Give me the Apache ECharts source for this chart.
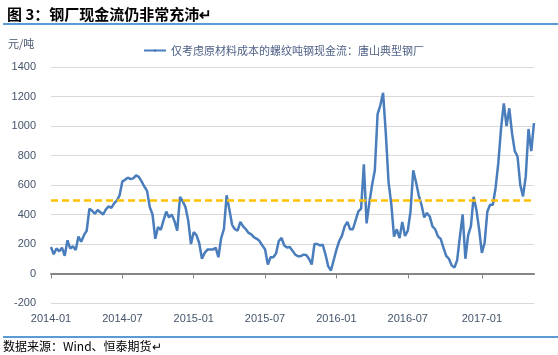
<!DOCTYPE html>
<html>
<head>
<meta charset="utf-8">
<title>钢厂现金流</title>
<script src="https://cdn.jsdelivr.net/npm/echarts@6.0.0/dist/echarts.min.js"></script>
<style>
    html, body { margin: 0; padding: 0; background: #fff; }
    #main { width: 558px; height: 355px; }
</style>
</head>
<body>
<div id="main"></div>
<script>
// 周度数据，起始 2014-01-03
var firstWeek = '2014-01-03';
var seriesName = '仅考虑原材料成本的螺纹吨钢现金流：唐山典型钢厂';
var cashFlow = [
    180, 130, 170, 150, 175, 120, 225, 170, 184, 160,
    250, 215, 260, 290, 440, 425, 405, 430, 415, 400,
    435, 455, 445, 475, 495, 530, 625, 635, 650, 640,
    645, 665, 655, 625, 590, 560, 450, 400, 235, 315,
    295, 360, 420, 380, 400, 355, 290, 520, 490, 450,
    360, 200, 280, 260, 207, 100, 140, 162, 162, 162,
    175, 110, 240, 300, 530, 433, 330, 300, 290, 350,
    320, 300, 275, 265, 245, 235, 220, 190, 165, 60,
    110, 110, 135, 220, 241, 190, 176, 180, 155, 128,
    117, 117, 128, 125, 100, 61, 200, 200, 190, 196,
    130, 50, 20, 90, 160, 220, 255, 320, 350, 300,
    300, 360, 421, 440, 740, 340, 480, 600, 700, 1080,
    1140, 1225, 950, 620, 470, 250, 300, 240, 350, 255,
    290, 420, 700, 620, 530, 466, 380, 410, 387, 320,
    300, 252, 235, 175, 120, 100, 55, 40, 90, 250,
    400, 100, 260, 320, 520, 433, 300, 140, 207, 420,
    466, 466, 580, 750, 985, 1154, 1000, 1120, 950, 830,
    793, 600, 523, 660, 980, 830, 1020
];
var threshold = 500;
var yTicks = [-200, 0, 200, 400, 600, 800, 1000, 1200, 1400];

var weeks = [];
var t0 = new Date(firstWeek + 'T00:00:00Z').getTime();
for (var i = 0; i < cashFlow.length; i++) {
    weeks.push(new Date(t0 + i * 7 * 86400000).toISOString().slice(0, 10));
}
// 每年 1 月、7 月的第一周显示刻度
function isTick(idx) {
    var m = weeks[idx].slice(5, 7);
    if (m !== '01' && m !== '07') return false;
    return idx === 0 || weeks[idx - 1].slice(5, 7) !== m;
}

var axisColor = '#44546a';
var numFont = '"Liberation Sans", Arial, sans-serif';
var cjkFont = '"Noto Sans CJK SC", sans-serif';

var myChart = echarts.init(document.getElementById('main'));
var option = {
    animation: false,
    title: {
        text: '图 3：钢厂现金流仍非常充沛↵',
        left: 2,
        top: 2,
        textStyle: { fontFamily: cjkFont, fontSize: 15, fontWeight: 'bold', color: '#000' }
    },
    legend: {
        left: 138,
        top: 40,
        itemWidth: 22,
        itemHeight: 3,
        itemGap: 4,
        textStyle: { fontFamily: cjkFont, fontSize: 11, color: '#4e6187' },
        data: [seriesName]
    },
    grid: { left: 51, right: 24, top: 67, bottom: 52 },
    xAxis: [
        {
            type: 'category',
            position: 'bottom',
            boundaryGap: false,
            data: weeks,
            axisLine: { show: false, onZero: false },
            axisTick: { show: false },
            axisLabel: {
                interval: function (idx) { return isTick(idx); },
                formatter: function (v) { return v.slice(0, 7); },
                margin: 10,
                fontFamily: numFont,
                fontSize: 11,
                color: axisColor
            },
            splitLine: { show: false }
        },
        {
            type: 'category',
            position: 'top',
            boundaryGap: false,
            data: weeks,
            axisLine: { show: true, onZero: true, lineStyle: { color: '#868686', width: 2 } },
            axisTick: {
                show: true,
                inside: true,
                length: 5,
                interval: function (idx) { return isTick(idx); },
                lineStyle: { color: '#868686', width: 1 }
            },
            axisLabel: { show: false },
            splitLine: { show: false }
        }
    ],
    yAxis: {
        type: 'value',
        min: yTicks[0],
        max: yTicks[yTicks.length - 1],
        interval: 200,
        axisLine: { show: false },
        axisTick: { show: false },
        axisLabel: {
            margin: 15,
            fontFamily: numFont,
            fontSize: 11,
            color: axisColor,
            formatter: function (v) { return String(v); }
        },
        splitLine: { lineStyle: { color: '#d9d9d9', width: 1 } }
    },
    graphic: [
        { type: 'rect', shape: { x: 3, y: 23, width: 555, height: 2 }, style: { fill: '#5b9bd5' } },
        { type: 'rect', shape: { x: 3, y: 336, width: 555, height: 2 }, style: { fill: '#5b9bd5' } },
        {
            type: 'text', left: 8, top: 38,
            style: { text: '元/吨', font: '11px ' + cjkFont, fill: axisColor }
        },
        {
            type: 'text', left: 3, top: 340,
            style: { text: '数据来源：Wind、恒泰期货↵', font: '12px ' + cjkFont, fill: '#000' }
        }
    ],
    series: [
        {
            name: seriesName,
            type: 'line',
            xAxisIndex: 0,
            symbol: 'none',
            data: cashFlow,
            lineStyle: { color: '#4a7dbc', width: 2.5 },
            itemStyle: { color: '#4a7dbc' },
            markLine: {
                silent: true,
                symbol: 'none',
                label: { show: false },
                lineStyle: { color: '#ffc000', width: 2.5, type: [7, 4] },
                data: [{ yAxis: threshold }]
            }
        }
    ]
};
myChart.setOption(option);
</script>
</body>
</html>
